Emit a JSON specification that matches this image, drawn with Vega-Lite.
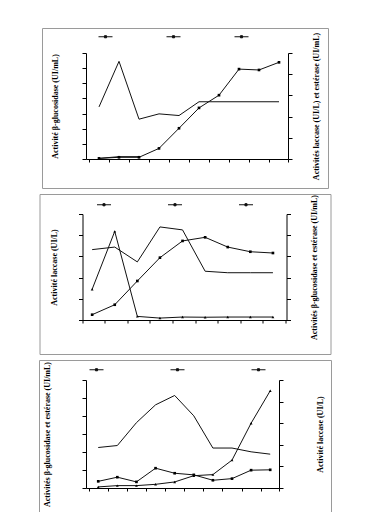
{
"$schema": "https://vega.github.io/schema/vega-lite/v6.json",
"padding": {"left": 38, "top": 27, "right": 0, "bottom": 0},
"bounds": "flush",
"center": true,
"spacing": 6,
"vconcat": [
{
 "width": 286, "height": 160,
 "data": {"values": [
  {"t":1,"v":0.03,"serie":"laccase","axe":"R"},{"t":2,"v":0.08,"serie":"laccase","axe":"R"},{"t":3,"v":0.08,"serie":"laccase","axe":"R"},{"t":4,"v":0.50,"serie":"laccase","axe":"R"},{"t":5,"v":1.45,"serie":"laccase","axe":"R"},{"t":6,"v":2.41,"serie":"laccase","axe":"R"},{"t":7,"v":3.01,"serie":"laccase","axe":"R"},{"t":8,"v":4.24,"serie":"laccase","axe":"R"},{"t":9,"v":4.20,"serie":"laccase","axe":"R"},{"t":10,"v":4.56,"serie":"laccase","axe":"R"},
  {"t":1,"v":3.44,"serie":"β-glucosidase","axe":"L"},{"t":2,"v":6.45,"serie":"β-glucosidase","axe":"L"},{"t":3,"v":2.63,"serie":"β-glucosidase","axe":"L"},{"t":4,"v":2.98,"serie":"β-glucosidase","axe":"L"},{"t":5,"v":2.87,"serie":"β-glucosidase","axe":"L"},{"t":6,"v":3.78,"serie":"β-glucosidase","axe":"L"},{"t":7,"v":3.78,"serie":"β-glucosidase","axe":"L"},{"t":8,"v":3.78,"serie":"β-glucosidase","axe":"L"},{"t":9,"v":3.78,"serie":"β-glucosidase","axe":"L"},{"t":10,"v":3.78,"serie":"β-glucosidase","axe":"L"},
  {"t":1,"v":0.03,"serie":"estérase","axe":"R"},{"t":2,"v":0.11,"serie":"estérase","axe":"R"},{"t":3,"v":0.11,"serie":"estérase","axe":"R"}
 ]},
 "encoding": {"x": {"field":"t","type":"quantitative","title":null,"scale":{"domain":[0.35,10.45],"range":[44,246],"nice":false,"zero":false},"axis":{"offset":-29,"tickSize":3,"values":[0.5,1.5,2.5,3.5,4.5,5.5,6.5,7.5,8.5,9.5,10.45]}}},
 "layer": [
  {"transform":[{"filter":"datum.axe=='L'"}],
   "encoding":{"y":{"field":"v","type":"quantitative","scale":{"domain":[0,7],"range":[131,25],"nice":false,"zero":false},"axis":{"orient":"left","offset":-44,"values":[0,1,2,3,4,5,6,7],"title":"Activité β-glucosidase (UI/mL)","titlePadding":26}}},
   "layer":[
    {"mark":{"type":"line","strokeWidth":1},"encoding":{"color":{"field":"serie","type":"nominal","scale":{"domain":["laccase","β-glucosidase","estérase"],"range":["#111","#111","#111"]},"legend":{"orient":"none","legendX":56,"legendY":1,"columnPadding":49,"labelExpr":"''","title":null,"direction":"horizontal"}}}}
   ]},
  {"transform":[{"filter":"datum.axe=='R'"}],
   "encoding":{"y":{"field":"v","type":"quantitative","scale":{"domain":[0,5],"range":[131,25],"nice":false,"zero":false},"axis":{"orient":"right","offset":-40,"values":[0,1,2,3,4,5],"title":"Activités laccase (UI/L) et estérase (UI/mL)","titlePadding":24}}},
   "layer":[
    {"mark":{"type":"line","strokeWidth":1},"encoding":{"color":{"field":"serie","type":"nominal","legend":{"orient":"none","legendX":56,"legendY":1,"columnPadding":49,"labelExpr":"''","title":null,"direction":"horizontal"}}}},
    {"transform":[{"filter":"datum.serie=='laccase'"}],"mark":{"type":"point","shape":"square","filled":true,"color":"#000","size":7,"opacity":1}},
    {"transform":[{"filter":"datum.serie=='estérase'"}],"mark":{"type":"point","shape":"triangle-up","filled":true,"color":"#000","size":8,"opacity":1}}
   ]}
 ],
 "resolve":{"scale":{"y":"independent"}}
},
{
 "width": 291, "height": 160,
 "data": {"values": [
  {"t":1,"v":1.45,"serie":"laccase","axe":"L"},{"t":2,"v":4.18,"serie":"laccase","axe":"L"},{"t":3,"v":0.17,"serie":"laccase","axe":"L"},{"t":4,"v":0.09,"serie":"laccase","axe":"L"},{"t":5,"v":0.14,"serie":"laccase","axe":"L"},{"t":6,"v":0.13,"serie":"laccase","axe":"L"},{"t":7,"v":0.14,"serie":"laccase","axe":"L"},{"t":8,"v":0.14,"serie":"laccase","axe":"L"},{"t":9,"v":0.14,"serie":"laccase","axe":"L"},
  {"t":1,"v":0.25,"serie":"β-glucosidase","axe":"R"},{"t":2,"v":0.72,"serie":"β-glucosidase","axe":"R"},{"t":3,"v":1.84,"serie":"β-glucosidase","axe":"R"},{"t":4,"v":2.94,"serie":"β-glucosidase","axe":"R"},{"t":5,"v":3.73,"serie":"β-glucosidase","axe":"R"},{"t":6,"v":3.90,"serie":"β-glucosidase","axe":"R"},{"t":7,"v":3.44,"serie":"β-glucosidase","axe":"R"},{"t":8,"v":3.22,"serie":"β-glucosidase","axe":"R"},{"t":9,"v":3.16,"serie":"β-glucosidase","axe":"R"},
  {"t":1,"v":3.32,"serie":"estérase","axe":"R"},{"t":2,"v":3.44,"serie":"estérase","axe":"R"},{"t":3,"v":2.74,"serie":"estérase","axe":"R"},{"t":4,"v":4.39,"serie":"estérase","axe":"R"},{"t":5,"v":4.25,"serie":"estérase","axe":"R"},{"t":6,"v":2.30,"serie":"estérase","axe":"R"},{"t":7,"v":2.23,"serie":"estérase","axe":"R"},{"t":8,"v":2.23,"serie":"estérase","axe":"R"},{"t":9,"v":2.23,"serie":"estérase","axe":"R"}
 ]},
 "encoding": {"x": {"field":"t","type":"quantitative","title":null,"scale":{"domain":[0.56,9.6],"range":[42.7,247],"nice":false,"zero":false},"axis":{"offset":-34,"tickSize":3,"values":[0.56,1.56,2.56,3.56,4.56,5.56,6.56,7.56,8.56,9.56]}}},
 "layer": [
  {"transform":[{"filter":"datum.axe=='L'"}],
   "encoding":{"y":{"field":"v","type":"quantitative","scale":{"domain":[0,5],"range":[126,20],"nice":false,"zero":false},"axis":{"orient":"left","offset":-43,"values":[0,1,2,3,4,5],"title":"Activité laccase (UI/L)","titlePadding":24}}},
   "layer":[
    {"mark":{"type":"line","strokeWidth":1},"encoding":{"color":{"field":"serie","type":"nominal","scale":{"domain":["laccase","β-glucosidase","estérase"],"range":["#111","#111","#111"]},"legend":{"orient":"none","legendX":57,"legendY":3,"columnPadding":52,"labelExpr":"''","title":null,"direction":"horizontal"}}}},
    {"mark":{"type":"point","shape":"triangle-up","filled":true,"color":"#000","size":8,"opacity":1}}
   ]},
  {"transform":[{"filter":"datum.axe=='R'"}],
   "encoding":{"y":{"field":"v","type":"quantitative","scale":{"domain":[0,5],"range":[126,20],"nice":false,"zero":false},"axis":{"orient":"right","offset":-44,"values":[0,1,2,3,4,5],"title":"Activités β-glucosidase et estérase (UI/mL)","titlePadding":23}}},
   "layer":[
    {"mark":{"type":"line","strokeWidth":1},"encoding":{"color":{"field":"serie","type":"nominal","legend":{"orient":"none","legendX":57,"legendY":3,"columnPadding":52,"labelExpr":"''","title":null,"direction":"horizontal"}}}},
    {"transform":[{"filter":"datum.serie=='β-glucosidase'"}],"mark":{"type":"point","shape":"square","filled":true,"color":"#000","size":7,"opacity":1}}
   ]}
 ],
 "resolve":{"scale":{"y":"independent"}}
},
{
 "width": 292, "height": 160,
 "data": {"values": [
  {"t":1,"v":0.37,"serie":"estérase","axe":"L"},{"t":2,"v":0.60,"serie":"estérase","axe":"L"},{"t":3,"v":0.34,"serie":"estérase","axe":"L"},{"t":4,"v":1.10,"serie":"estérase","axe":"L"},{"t":5,"v":0.82,"serie":"estérase","axe":"L"},{"t":6,"v":0.73,"serie":"estérase","axe":"L"},{"t":7,"v":0.43,"serie":"estérase","axe":"L"},{"t":8,"v":0.52,"serie":"estérase","axe":"L"},{"t":9,"v":0.99,"serie":"estérase","axe":"L"},{"t":10,"v":1.01,"serie":"estérase","axe":"L"},
  {"t":1,"v":2.25,"serie":"β-glucosidase","axe":"L"},{"t":2,"v":2.36,"serie":"β-glucosidase","axe":"L"},{"t":3,"v":3.63,"serie":"β-glucosidase","axe":"L"},{"t":4,"v":4.62,"serie":"β-glucosidase","axe":"L"},{"t":5,"v":5.14,"serie":"β-glucosidase","axe":"L"},{"t":6,"v":4.01,"serie":"β-glucosidase","axe":"L"},{"t":7,"v":2.22,"serie":"β-glucosidase","axe":"L"},{"t":8,"v":2.22,"serie":"β-glucosidase","axe":"L"},{"t":9,"v":2.01,"serie":"β-glucosidase","axe":"L"},{"t":10,"v":1.88,"serie":"β-glucosidase","axe":"L"},
  {"t":1,"v":0.05,"serie":"laccase","axe":"R"},{"t":2,"v":0.11,"serie":"laccase","axe":"R"},{"t":3,"v":0.11,"serie":"laccase","axe":"R"},{"t":4,"v":0.17,"serie":"laccase","axe":"R"},{"t":5,"v":0.28,"serie":"laccase","axe":"R"},{"t":6,"v":0.57,"serie":"laccase","axe":"R"},{"t":7,"v":0.62,"serie":"laccase","axe":"R"},{"t":8,"v":1.29,"serie":"laccase","axe":"R"},{"t":9,"v":3.00,"serie":"laccase","axe":"R"},{"t":10,"v":4.50,"serie":"laccase","axe":"R"}
 ]},
 "encoding": {"x": {"field":"t","type":"quantitative","title":null,"scale":{"domain":[0.36,10.46],"range":[47,240],"nice":false,"zero":false},"axis":{"offset":-32,"tickSize":3,"values":[0.5,1.5,2.5,3.5,4.5,5.5,6.5,7.5,8.5,9.5,10.46]}}},
 "layer": [
  {"transform":[{"filter":"datum.axe=='L'"}],
   "encoding":{"y":{"field":"v","type":"quantitative","scale":{"domain":[0,6],"range":[128,20],"nice":false,"zero":false},"axis":{"orient":"left","offset":-47,"values":[0,1,2,3,4,5,6],"title":"Activités β-glucosidase  et estérase (UI/mL)","titlePadding":34}}},
   "layer":[
    {"mark":{"type":"line","strokeWidth":1},"encoding":{"color":{"field":"serie","type":"nominal","scale":{"domain":["estérase","β-glucosidase","laccase"],"range":["#111","#111","#111"]},"legend":{"orient":"none","legendX":50,"legendY":2,"columnPadding":62,"labelExpr":"''","title":null,"direction":"horizontal"}}}},
    {"transform":[{"filter":"datum.serie=='estérase'"}],"mark":{"type":"point","shape":"square","filled":true,"color":"#000","size":7,"opacity":1}}
   ]},
  {"transform":[{"filter":"datum.axe=='R'"}],
   "encoding":{"y":{"field":"v","type":"quantitative","scale":{"domain":[0,5],"range":[128,20],"nice":false,"zero":false},"axis":{"orient":"right","offset":-52,"values":[0,1,2,3,4,5],"title":"Activité  laccase (UI/L)","titlePadding":37}}},
   "layer":[
    {"mark":{"type":"line","strokeWidth":1},"encoding":{"color":{"field":"serie","type":"nominal","legend":{"orient":"none","legendX":50,"legendY":2,"columnPadding":62,"labelExpr":"''","title":null,"direction":"horizontal"}}}},
    {"mark":{"type":"point","shape":"triangle-up","filled":true,"color":"#000","size":8,"opacity":1}}
   ]}
 ],
 "resolve":{"scale":{"y":"independent"}}
}
],
"resolve": {"scale": {"x":"independent","y":"independent","color":"independent"}, "legend": {"color":"independent"}},
"config": {
 "view": {"stroke":"#9a9a9a","strokeWidth":1},
 "axis": {"labels": false, "grid": false, "domainColor":"#000","tickColor":"#000","tickSize":4,"titleFont":"Liberation Serif","titleFontSize":8,"titleFontWeight":"bold","titleColor":"#000","titleAngle":270,"titleBaseline":"middle"},
 "legend": {"labelOffset":0,"padding":0,"symbolOffset":0,"symbolType":"M-1,0H1M-0.15,-0.15H0.15V0.15H-0.15Z","symbolSize":196,"symbolStrokeColor":"#000","symbolFillColor":"#000","symbolStrokeWidth":1,"rowPadding":0}
}
}
